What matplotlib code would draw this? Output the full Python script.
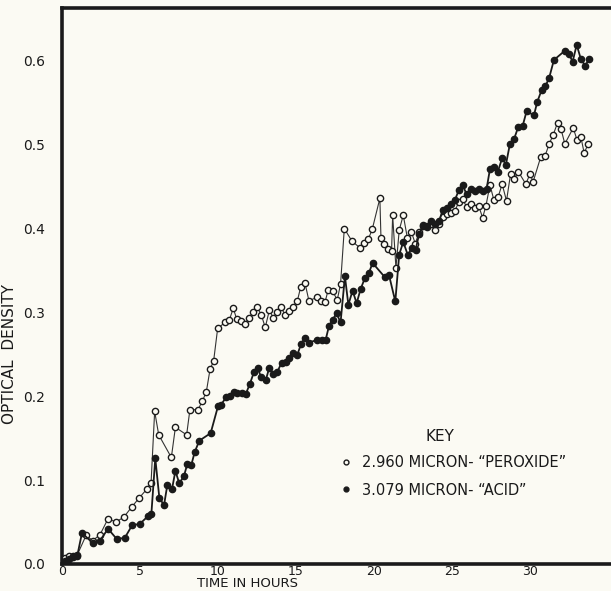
import matplotlib
matplotlib.use("Agg")
import matplotlib.pyplot as plt
from matplotlib.lines import Line2D

# 2.960 micron band ("peroxide"), open circles
perox_t = [0.19, 0.47, 0.68, 0.98, 1.54, 1.97, 2.44, 2.95, 3.46, 3.97, 4.47, 4.96, 5.47, 5.71,
           5.94, 6.2, 7.01, 7.27, 7.99, 8.2, 8.72, 8.99, 9.25, 9.49, 9.72, 9.98, 10.45, 10.73,
           10.98, 11.2, 11.47, 11.75, 11.97, 12.26, 12.52, 12.78, 13.03, 13.3, 13.55, 13.78,
           14.04, 14.29, 14.55, 14.81, 15.08, 15.3, 15.58, 15.83, 16.37, 16.58, 16.86, 17.07,
           17.35, 17.65, 17.86, 18.1, 18.59, 19.1, 19.38, 19.63, 19.89, 20.38, 20.45, 20.66,
           20.9, 21.13, 21.2, 21.41, 21.62, 21.88, 22.14, 22.4, 22.65, 22.9, 23.16, 23.4,
           23.67, 23.9, 24.17, 24.4, 24.66, 24.92, 25.19, 25.45, 25.68, 25.94, 26.2, 26.45,
           26.71, 26.97, 27.18, 27.44, 27.69, 27.97, 28.22, 28.5, 28.76, 28.99, 29.25, 29.74,
           30.0, 30.21, 30.69, 30.96, 31.24, 31.5, 31.77, 31.99, 32.24, 32.78, 33.03, 33.27,
           33.48, 33.74]
perox_v = [0.007, 0.009, 0.010, 0.011, 0.034, 0.028, 0.035, 0.054, 0.050, 0.056, 0.068, 0.079,
           0.090, 0.097, 0.182, 0.154, 0.127, 0.163, 0.154, 0.184, 0.184, 0.194, 0.205, 0.232,
           0.242, 0.281, 0.288, 0.291, 0.305, 0.292, 0.290, 0.286, 0.293, 0.300, 0.306, 0.297,
           0.282, 0.303, 0.293, 0.301, 0.307, 0.297, 0.302, 0.307, 0.313, 0.330, 0.335, 0.314,
           0.318, 0.314, 0.312, 0.327, 0.325, 0.315, 0.334, 0.400, 0.385, 0.377, 0.383, 0.387,
           0.399, 0.436, 0.389, 0.381, 0.376, 0.373, 0.416, 0.353, 0.398, 0.416, 0.389, 0.396,
           0.382, 0.396, 0.404, 0.402, 0.405, 0.398, 0.405, 0.414, 0.417, 0.418, 0.421, 0.432,
           0.435, 0.426, 0.429, 0.425, 0.427, 0.413, 0.427, 0.452, 0.434, 0.438, 0.453, 0.433,
           0.465, 0.459, 0.468, 0.453, 0.465, 0.456, 0.485, 0.486, 0.501, 0.512, 0.526, 0.519,
           0.501, 0.520, 0.505, 0.509, 0.490, 0.501]

# 3.079 micron band ("acid"), filled circles
acid_t = [0.19, 0.47, 0.68, 0.98, 1.28, 1.97, 2.44, 2.95, 3.5, 4.02, 4.49, 5.0, 5.51, 5.73,
          5.98, 6.24, 6.54, 6.75, 7.05, 7.27, 7.52, 7.82, 8.03, 8.29, 8.5, 8.8, 9.53, 10.0,
          10.2, 10.53, 10.77, 11.03, 11.24, 11.52, 11.79, 12.05, 12.31, 12.54, 12.76, 13.06,
          13.29, 13.55, 13.8, 14.08, 14.34, 14.57, 14.83, 15.08, 15.32, 15.58, 15.83, 16.32,
          16.64, 16.9, 17.12, 17.35, 17.6, 17.86, 18.14, 18.36, 18.63, 18.89, 19.15, 19.42,
          19.68, 19.91, 20.7, 20.96, 21.37, 21.62, 21.88, 22.18, 22.41, 22.67, 22.9, 23.16,
          23.42, 23.67, 23.91, 24.19, 24.4, 24.66, 24.91, 25.19, 25.45, 25.68, 25.94, 26.2,
          26.45, 26.71, 26.97, 27.22, 27.44, 27.69, 27.95, 28.22, 28.46, 28.72, 28.99, 29.25,
          29.53, 29.79, 30.26, 30.47, 30.75, 31.0, 31.24, 31.54, 32.24, 32.5, 32.74, 33.0,
          33.27, 33.55, 33.78]
acid_v = [0.004, 0.006, 0.008, 0.010, 0.037, 0.025, 0.028, 0.042, 0.030, 0.031, 0.046, 0.048,
          0.057, 0.060, 0.126, 0.079, 0.070, 0.094, 0.089, 0.111, 0.096, 0.105, 0.119, 0.118,
          0.133, 0.147, 0.156, 0.188, 0.190, 0.199, 0.200, 0.205, 0.204, 0.204, 0.203, 0.215,
          0.229, 0.234, 0.223, 0.219, 0.234, 0.227, 0.229, 0.240, 0.241, 0.246, 0.252, 0.249,
          0.262, 0.270, 0.264, 0.267, 0.267, 0.267, 0.284, 0.291, 0.299, 0.288, 0.343, 0.309,
          0.326, 0.311, 0.328, 0.341, 0.347, 0.359, 0.342, 0.345, 0.313, 0.369, 0.384, 0.368,
          0.377, 0.374, 0.394, 0.403, 0.403, 0.409, 0.405, 0.409, 0.422, 0.424, 0.429, 0.434,
          0.446, 0.452, 0.441, 0.447, 0.445, 0.447, 0.445, 0.447, 0.471, 0.473, 0.468, 0.484,
          0.476, 0.501, 0.507, 0.521, 0.522, 0.540, 0.535, 0.551, 0.565, 0.570, 0.580, 0.601,
          0.612, 0.608, 0.599, 0.619, 0.602, 0.594, 0.602]

x_ticks = [0, 5, 10, 15, 20, 25, 30]
y_ticks = [0.0, 0.1, 0.2, 0.3, 0.4, 0.5, 0.6]
perox_label = "2.960 MICRON- \u201cPEROXIDE\u201d"
acid_label = "3.079 MICRON- \u201cACID\u201d"

bg = "#fbfaf3"
ink = "#1a1a1a"
plt.rcParams['font.family'] = ['DejaVu Sans']

fig = plt.figure(figsize=(6.11, 5.91), dpi=100, facecolor=bg)
ax = fig.add_axes([0.1015, 0.0457, 0.8985, 0.9408])
ax.set_facecolor(bg)

ax.plot(perox_t, perox_v, color="#333333", lw=0.8, marker="o", ms=4.5,
        mfc=bg, mec=ink, mew=1.0, zorder=3)
ax.plot(acid_t, acid_v, color=ink, lw=1.3, marker="o", ms=4.5,
        mfc=ink, mec=ink, zorder=4)

ax.set_xlim(0, 35.2)
ax.set_ylim(0, 0.663)
ax.set_xticks(x_ticks)
ax.set_xticklabels([str(t) for t in x_ticks])
ax.set_yticks(y_ticks)
ax.set_yticklabels(["%.1f" % v for v in y_ticks])
ax.tick_params(axis="both", length=0, labelsize=10, colors=ink)
ax.tick_params(axis="y", pad=12)
ax.tick_params(axis="x", labelsize=9, pad=1)

for s in ["left", "bottom", "top"]:
    ax.spines[s].set_linewidth(2.6)
    ax.spines[s].set_color(ink)
ax.spines["right"].set_visible(False)

ax.set_xlabel("TIME IN HOURS", fontsize=9.5, color=ink, va="bottom")
ax.xaxis.set_label_coords(0.337, -0.0468)
ax.set_ylabel("OPTICAL  DENSITY", fontsize=11, color=ink)
ax.yaxis.set_label_coords(-0.082, 0.377)

handles = [Line2D([], [], ls="none", marker="o", ms=3.5, mfc=bg, mec=ink, mew=1.0),
           Line2D([], [], ls="none", marker="o", ms=3.5, mfc=ink, mec=ink)]
fig.legend(handles, [perox_label, acid_label], loc="center left",
           bbox_to_anchor=(0.545, 0.194), frameon=False, fontsize=10.5,
           handlelength=0.8, handletextpad=0.7, labelspacing=0.85,
           borderpad=0, labelcolor=ink)
fig.text(0.72, 0.2606, "KEY", fontsize=11, color=ink, ha="center", va="center")

fig.savefig("out.png", dpi=100, facecolor=bg)
